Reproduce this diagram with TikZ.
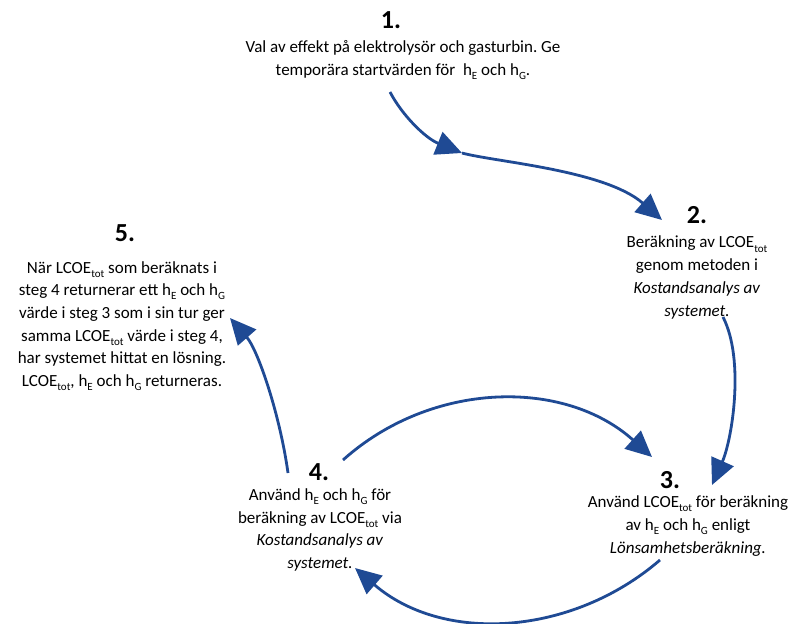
\documentclass[tikz,border=0pt]{standalone}
\usepackage{fontspec}
\setmainfont{Carlito}
\usetikzlibrary{arrows, arrows.meta}
\usetikzlibrary{calc}
\definecolor{flowblue}{HTML}{1F4A94}
\newcommand{\lowidx}[1]{\raisebox{-0.5ex}{\fontsize{11}{12}\selectfont #1}}
\frenchspacing

\begin{document}
\begin{tikzpicture}[x=1pt, y=-1pt,
    num/.style={inner sep=0pt, font=\bfseries\fontsize{26}{28}\selectfont},
    txt/.style={inner sep=0pt, align=center, font=\fontsize{17}{22.7}\selectfont},
    flow/.style={draw=flowblue, line width=2.8pt, -{Triangle[length=26pt, width=24pt]}}]
    \useasboundingbox (0,0) rectangle (788,624);

    \node[num] (n1) at (391,20) {1.};
    \node[txt] (t1) at (403,60) {Val av effekt på elektrolysör och gasturbin. Ge\\temporära startvärden för\ \ h\lowidx{E} och h\lowidx{G}.};

    \node[num] (n2) at (697,215) {2.};
    \node[txt] (t2) at (697,277.5) {Beräkning av LCOE\lowidx{tot}\\genom metoden i\\\textit{Kostandsanalys av}\\\textit{systemet.}};

    \node[num] (n3) at (670,480) {3.};
    \node[txt] (t3) at (688,526) {Använd LCOE\lowidx{tot} för beräkning\\av h\lowidx{E} och h\lowidx{G} enligt\\\textit{Lönsamhetsberäkning.}};

    \node[num] (n4) at (319,472) {4.};
    \node[txt] (t4) at (320,530) {Använd h\lowidx{E} och h\lowidx{G} för\\beräkning av LCOE\lowidx{tot} via\\\textit{Kostandsanalys av}\\\textit{systemet.}};

    \node[num] (n5) at (125,233) {5.};
    \node[txt] (t5) at (122,326) {När LCOE\lowidx{tot} som beräknats i\\steg 4 returnerar ett h\lowidx{E} och h\lowidx{G}\\värde i steg 3 som i sin tur ger\\samma LCOE\lowidx{tot} värde i steg 4,\\har systemet hittat en lösning.\\LCOE\lowidx{tot}, h\lowidx{E} och h\lowidx{G} returneras.};

    \coordinate (m1) at (462,153);

    \draw[flow] ([shift={(-13,32)}]t1.center) .. controls (402,115) and (425,138) .. (m1);
    \draw[flow] (m1) .. controls (495,162) and (605,170) .. ([shift={(-35,5)}]n2.center);
    \draw[flow] ([shift={(26,39.5)}]t2.center) .. controls (745,360) and (732,440) .. ([shift={(42,5)}]n3.center);
    \draw[flow] ([shift={(24,-12)}]n4.center) .. controls (431,381) and (564,378) .. ([shift={(-18,-23)}]n3.center);
    \draw[flow] ([shift={(-28,34)}]t3.center) .. controls (572,636) and (443,644) .. ([shift={(35,38)}]t4.center);
    \draw[flow] ([shift={(-31,1)}]n4.center) .. controls (280,415) and (258,350) .. ([shift={(108,-8)}]t5.center);
\end{tikzpicture}
\end{document}
